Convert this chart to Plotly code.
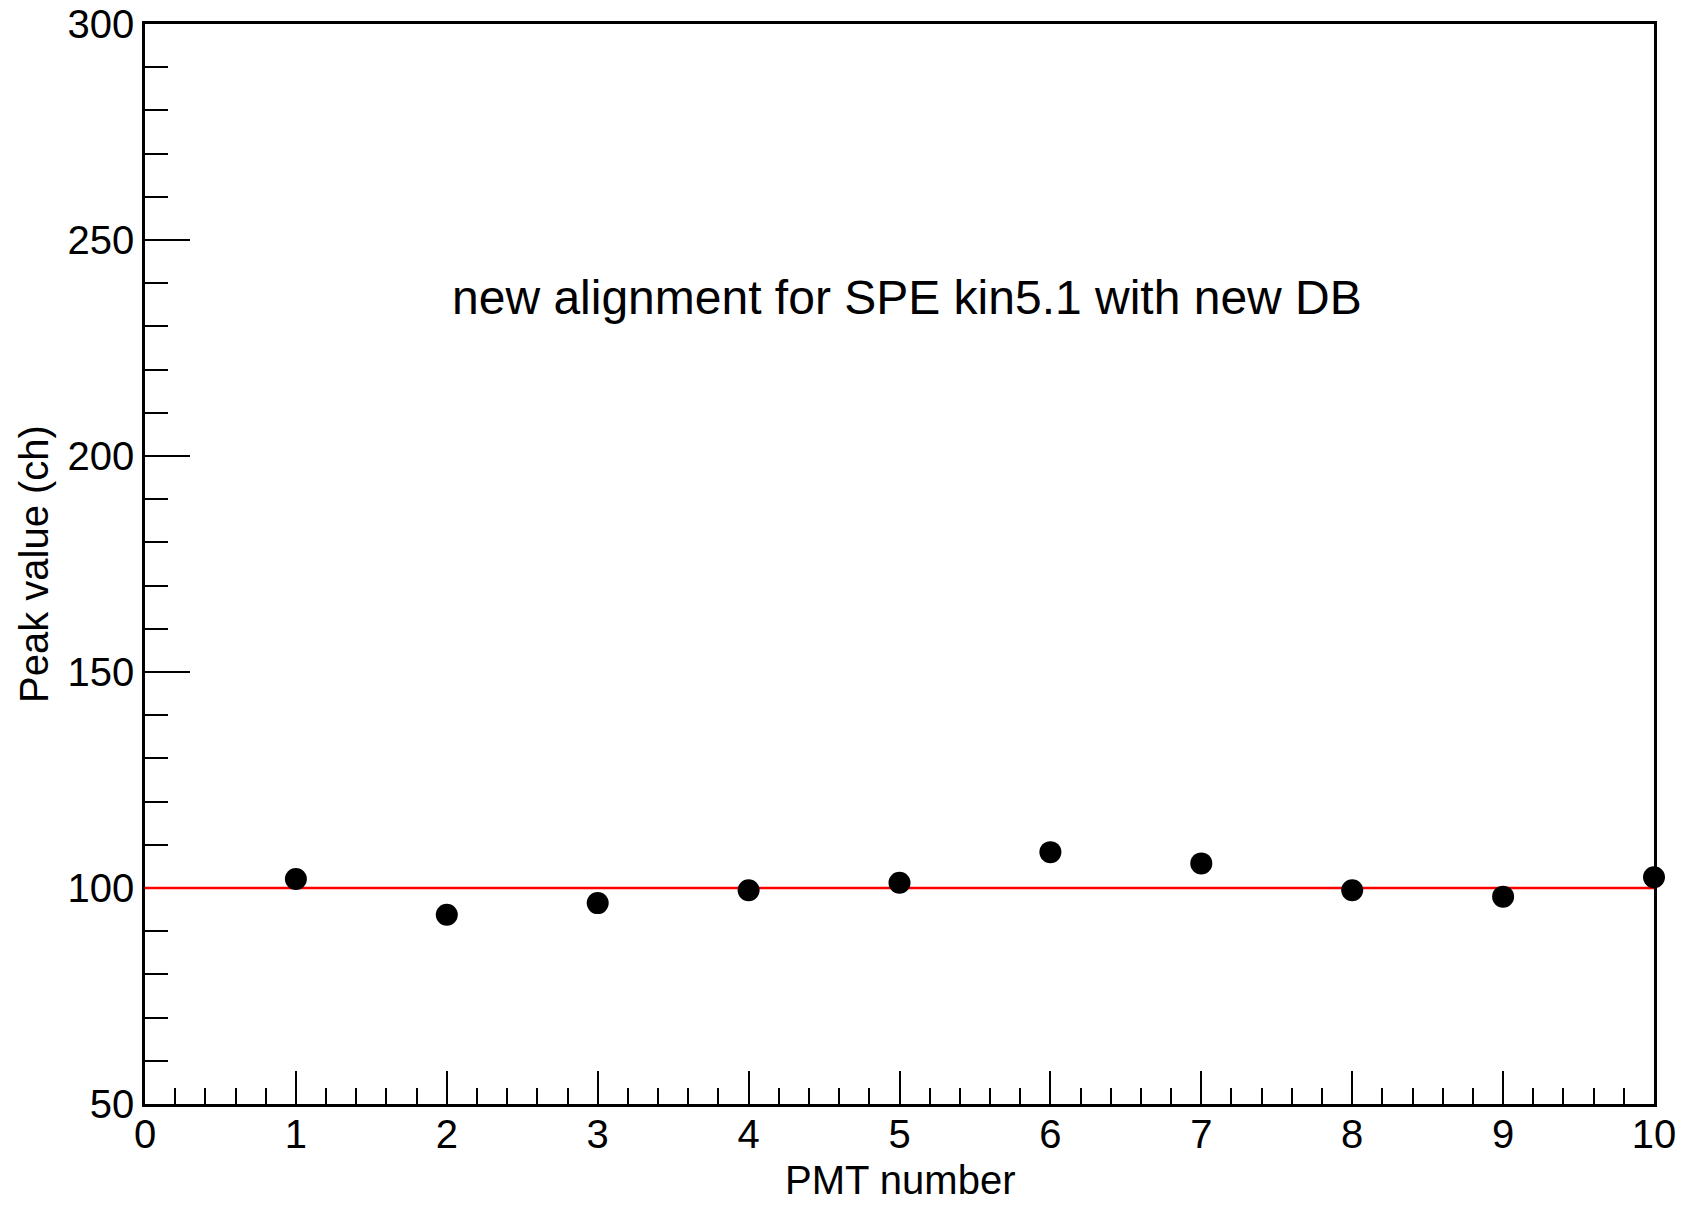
import plotly.graph_objects as go

pmt_number = [1, 2, 3, 4, 5, 6, 7, 8, 9, 10]
peak_value = [102.1, 93.8, 96.5, 99.5, 101.2, 108.3, 105.7, 99.5, 98.0, 102.5]
ref_x = [0, 10]
ref_y = [100, 100]
x_ticks = [0, 1, 2, 3, 4, 5, 6, 7, 8, 9, 10]
y_ticks = [50, 100, 150, 200, 250, 300]
title_text = "new alignment for SPE kin5.1 with new DB"

font_main = "Liberation Sans, Arial, sans-serif"
font_narrow = "Liberation Sans Narrow, Liberation Sans, Arial, sans-serif"

fig = go.Figure()
fig.add_trace(go.Scatter(x=ref_x, y=ref_y, mode="lines",
                         line=dict(color="#ff0000", width=2.5),
                         hoverinfo="skip", showlegend=False))
fig.add_trace(go.Scatter(x=pmt_number, y=peak_value, mode="markers",
                         marker=dict(color="black", size=22),
                         cliponaxis=False, showlegend=False))

fig.update_layout(
    width=1687, height=1205,
    margin=dict(l=145, r=33, t=24, b=101, autoexpand=False),
    plot_bgcolor="white", paper_bgcolor="white",
    font=dict(family=font_main, size=40, color="black"),
    showlegend=False,
)
fig.update_xaxes(
    range=[0, 10], tickvals=x_ticks, ticktext=[str(v) for v in x_ticks],
    ticks="inside", ticklen=33, tickwidth=2, tickcolor="black",
    minor=dict(dtick=0.2, ticks="inside", ticklen=16, tickwidth=2, tickcolor="black"),
    showline=True, linewidth=2.5, linecolor="black", mirror=True,
    showgrid=False, zeroline=False, automargin=False, layer="below traces",
    tickfont=dict(family=font_main, size=40),
    ticklabelstandoff=-7,
)
fig.update_yaxes(
    range=[50, 300], tickvals=y_ticks, ticktext=[str(v) for v in y_ticks],
    ticks="inside", ticklen=45, tickwidth=2, tickcolor="black",
    minor=dict(dtick=10, ticks="inside", ticklen=23, tickwidth=2, tickcolor="black"),
    showline=True, linewidth=2.5, linecolor="black", mirror=True,
    showgrid=False, zeroline=False, automargin=False, layer="below traces",
    tickfont=dict(family=font_main, size=40),
    ticklabelstandoff=0,
)

fig.add_annotation(text="PMT number", xref="paper", yref="paper", x=0.5, y=0,
                   yshift=-76, xanchor="center", yanchor="middle", showarrow=False,
                   font=dict(family=font_main, size=40))
fig.add_annotation(text="Peak value (ch)", xref="paper", yref="paper", x=0, y=0.5,
                   xshift=-111, xanchor="center", yanchor="middle", textangle=-90,
                   showarrow=False, font=dict(family=font_main, size=40))
fig.add_annotation(text=title_text, xref="x", yref="y", x=5.05, y=236.7,
                   showarrow=False, font=dict(family=font_narrow, size=48),
                   xanchor="center", yanchor="middle")

fig.write_html("out.html")
